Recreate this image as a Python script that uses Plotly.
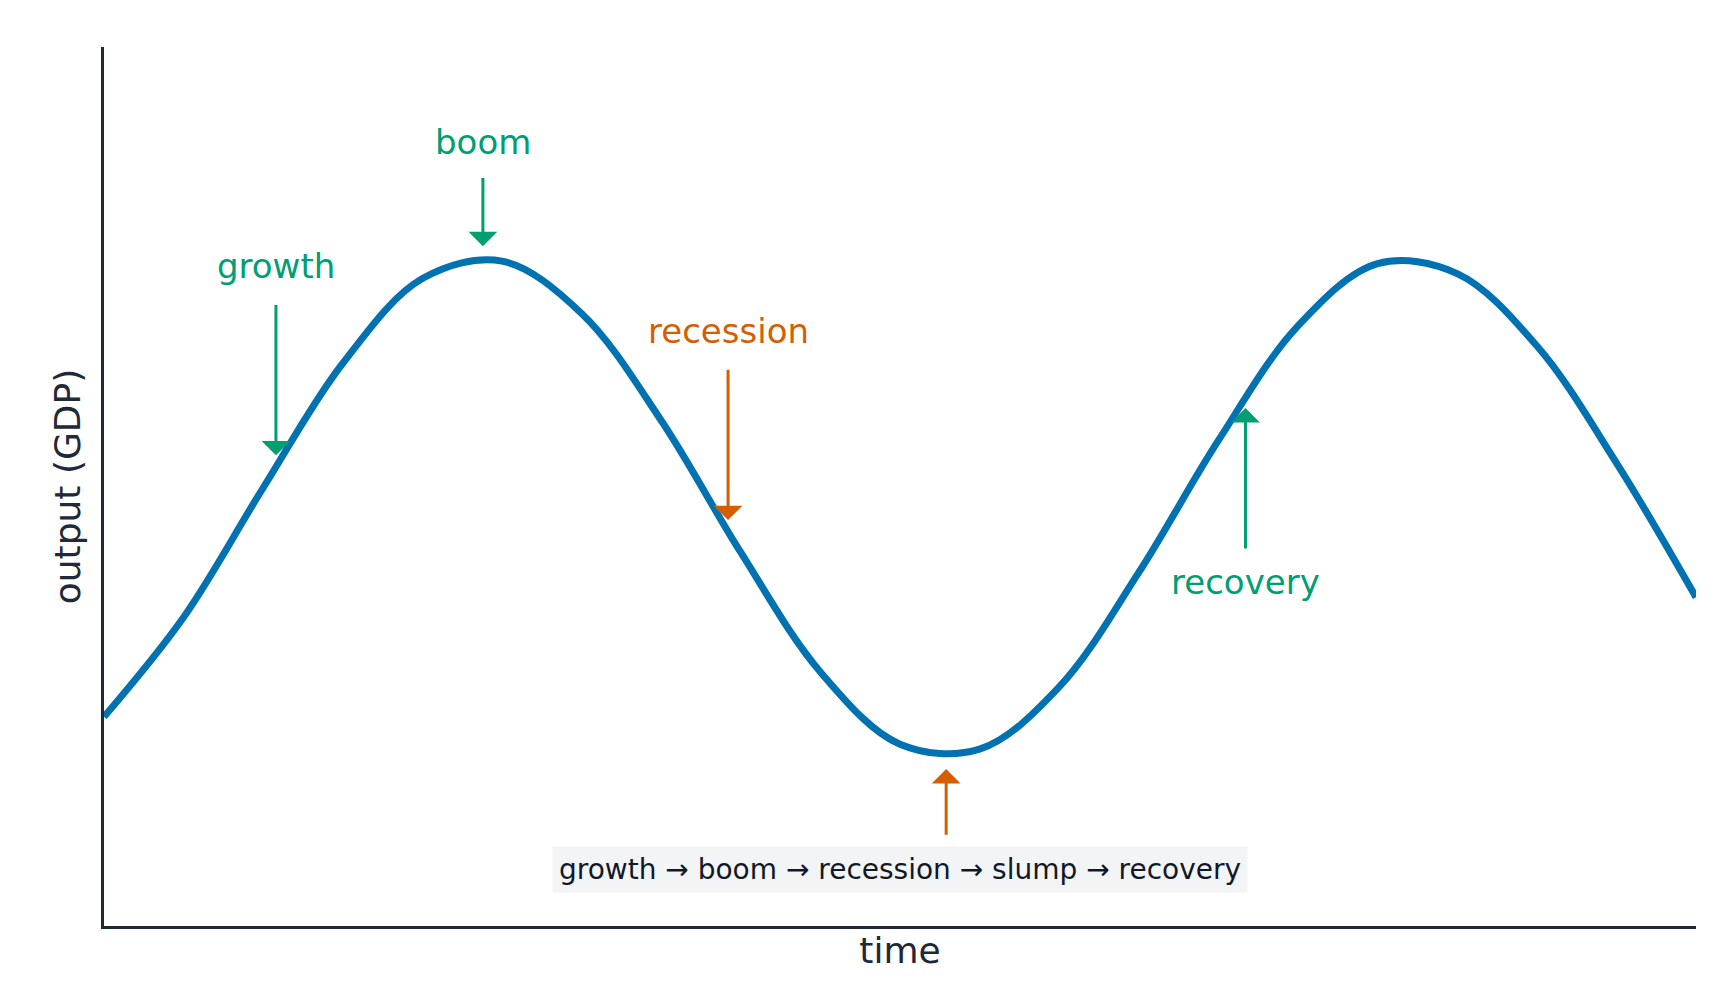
import plotly.graph_objects as go

# curve (time, output)
time = [0, 0.5, 1.0, 1.5, 2.0, 2.5, 3.0, 3.5, 4.0, 4.5, 5.0, 5.5, 6.0, 6.5, 7.0, 7.5, 8.0, 8.5, 9.0, 9.5, 10.0]
output = [-0.84, -0.44, 0.08, 0.58, 0.92, 0.99, 0.78, 0.35, -0.18, -0.66, -0.95, -0.97, -0.72, -0.26, 0.27, 0.73, 0.98, 0.94, 0.65, 0.18, -0.36]

# phase labels: name, arrow x, arrow tail y, arrow tip y, label y, colour
labels = ["growth", "boom", "recession", "", "recovery"]
arrow_x = [1.08, 2.38, 3.92, 5.29, 7.17]
tail_y = [0.82, 1.33, 0.56, -1.32, -0.17]
tip_y = [0.21, 1.05, -0.05, -1.05, 0.40]
label_y = [0.97, 1.47, 0.71, None, -0.30]
GREEN = "#009e73"
ORANGE = "#d55e00"
colours = [GREEN, GREEN, ORANGE, ORANGE, GREEN]

fig = go.Figure()
fig.add_trace(go.Scatter(x=time, y=output, mode="lines", line=dict(color="#0072b2", width=7, shape="spline"),
                         hoverinfo="skip", showlegend=False))

for name, x, ty, hy, ly, c in zip(labels, arrow_x, tail_y, tip_y, label_y, colours):
    fig.add_annotation(x=x, y=hy, ax=x, ay=ty, axref="x", ayref="y", xref="x", yref="y",
                       text="", showarrow=True, arrowhead=1, arrowsize=1.6, arrowwidth=3, arrowcolor=c)
    if name:
        fig.add_annotation(x=x, y=ly, text=name, showarrow=False, font=dict(size=34, color=c))

fig.add_annotation(x=5.0, y=-1.455, text="growth → boom → recession → slump → recovery", showarrow=False,
                   bgcolor="#f3f4f6", borderpad=6, font=dict(size=28, color="#111827"))

fig.update_xaxes(range=[0, 10], showticklabels=False, ticks="", showgrid=False, zeroline=False,
                 showline=True, linecolor="#1f2937", linewidth=3,
                 title=dict(text="time", font=dict(size=36, color="#1f2937"), standoff=10))
fig.update_yaxes(range=[-1.68, 1.85], showticklabels=False, ticks="", showgrid=False, zeroline=False,
                 showline=True, linecolor="#1f2937", linewidth=3,
                 title=dict(text="output (GDP)", font=dict(size=36, color="#1f2937"), standoff=10))
fig.update_layout(width=1721, height=1001, plot_bgcolor="white", paper_bgcolor="white",
                  font=dict(family="DejaVu Sans"),
                  margin=dict(l=96, r=33, t=39, b=83))
fig.write_html("out.html")
